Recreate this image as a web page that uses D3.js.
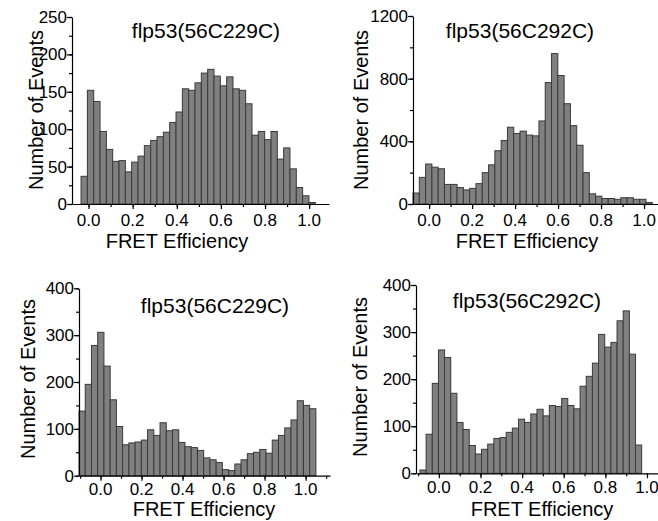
<!DOCTYPE html>
<html lang="en">
<head>
<meta charset="UTF-8">
<title>FRET Efficiency histograms</title>
<style>
    body { margin: 0; background: #fff; }
    text { font-family: "Liberation Sans", Arial, sans-serif; fill: #000; }
    .bar { fill: #808080; stroke: #3a3a3a; stroke-width: 1; }
    .axis path, .axis line { stroke: #000; stroke-width: 1.2; }
</style>
</head>
<body>
<div id="chart"></div>
<script src="https://d3js.org/d3.v7.min.js"></script>
<script>
// panel titles
var titles = ["flp53(56C229C)", "flp53(56C292C)", "flp53(56C229C)", "flp53(56C292C)"];

// counts per bin
var countsA = [37, 152, 137, 97, 73, 57, 58, 43, 56, 64, 78, 85, 90, 96, 109, 123, 154, 152, 162,
    175, 180, 171, 158, 170, 154, 152, 134, 92, 97, 86, 97, 60, 75, 47, 22, 11, 2];
var countsB = [70, 170, 255, 235, 225, 125, 125, 105, 90, 100, 130, 200, 250, 340, 405, 490, 450,
    465, 440, 435, 530, 775, 960, 820, 640, 500, 375, 200, 65, 50, 35, 35, 30, 40, 40, 30, 30, 10];
var countsC = [138, 195, 278, 306, 234, 162, 105, 66, 70, 72, 76, 98, 86, 113, 96, 98, 71, 62, 60,
    54, 38, 34, 28, 13, 11, 25, 34, 47, 50, 56, 48, 76, 86, 102, 119, 160, 150, 143];
var countsD = [7, 83, 191, 262, 246, 170, 108, 93, 59, 41, 51, 62, 74, 76, 87, 96, 115, 108, 126,
    136, 122, 144, 142, 159, 144, 137, 185, 206, 234, 295, 268, 278, 324, 345, 253, 60];

// first bin edge and bin width (FRET units)
var binStart = [-0.034, -0.075, -0.105, -0.091];
var binWidth = [0.0287, 0.0293, 0.0304, 0.0296];

// axis ranges and ticks
var xDomains = [[-0.075, 1.09], [-0.075, 1.065], [-0.105, 1.119], [-0.11, 1.053]];
var xTicks = [0.0, 0.2, 0.4, 0.6, 0.8, 1.0];
var yMax = [250, 1200, 400, 400];
var yTicks = [[0, 50, 100, 150, 200, 250], [0, 400, 800, 1200], [0, 100, 200, 300, 400], [0, 100, 200, 300, 400]];
var yMinor = [25, 200, 50, 50];

var allCounts = [countsA, countsB, countsC, countsD];

// pixel placement of each panel
var layout = [
    {x0: 72, x1: 329, y0: 204, y1: 17, titleX: 206, titleY: 38, xlabX: 177, xlabY: 248, tickY: 226, ylabX: 43, ylabY: 110},
    {x0: 413, x1: 658, y0: 204, y1: 16, titleX: 520, titleY: 38, xlabX: 527, xlabY: 248, tickY: 226, ylabX: 368, ylabY: 110},
    {x0: 79, x1: 330, y0: 475.7, y1: 288.3, titleX: 215, titleY: 313, xlabX: 204, xlabY: 516, tickY: 495, ylabX: 35, ylabY: 379},
    {x0: 416, x1: 658, y0: 473.3, y1: 285, titleX: 527, titleY: 308, xlabX: 542, xlabY: 516, tickY: 493, ylabX: 367, ylabY: 377}
];

var svg = d3.select("#chart")
    .append("svg")
    .attr("width", 658)
    .attr("height", 521);

layout.forEach(function (L, p) {
    var g = svg.append("g");
    var counts = allCounts[p];

    var x = d3.scaleLinear().domain(xDomains[p]).range([L.x0, L.x1]);
    var y = d3.scaleLinear().domain([0, yMax[p]]).range([L.y0, L.y1]);

    // bars
    g.selectAll(".bar")
        .data(counts)
        .enter().append("rect")
        .attr("class", "bar")
        .attr("x", function (d, i) {return x(binStart[p] + i * binWidth[p]);})
        .attr("width", function () {return x(binWidth[p]) - x(0);})
        .attr("y", function (d) {return y(d);})
        .attr("height", function (d) {return y(0) - y(d);});

    // minor ticks, x
    var xMinor = d3.range(-0.1, 1.11, 0.1).filter(function (v) {
        return v >= xDomains[p][0] && v <= xDomains[p][1];
    });
    g.append("g")
        .attr("class", "axis")
        .attr("transform", "translate(0," + L.y0 + ")")
        .call(d3.axisBottom(x).tickValues(xMinor).tickSize(3).tickFormat(""))
        .select(".domain").remove();

    // x axis
    g.append("g")
        .attr("class", "axis")
        .attr("transform", "translate(0," + L.y0 + ")")
        .call(d3.axisBottom(x).tickValues(xTicks).tickSizeInner(5).tickSizeOuter(0).tickFormat(""));

    g.selectAll(".xtl")
        .data(xTicks)
        .enter().append("text")
        .attr("class", "xtl")
        .attr("x", function (d) {return x(d);})
        .attr("y", L.tickY)
        .attr("text-anchor", "middle")
        .style("font-size", "17px")
        .text(function (d) {return d3.format(".1f")(d);});

    // minor ticks, y
    g.append("g")
        .attr("class", "axis")
        .attr("transform", "translate(" + L.x0 + ",0)")
        .call(d3.axisLeft(y).tickValues(d3.range(0, yMax[p] + 1, yMinor[p])).tickSize(3).tickFormat(""))
        .select(".domain").remove();

    // y axis
    g.append("g")
        .attr("class", "axis")
        .attr("transform", "translate(" + L.x0 + ",0)")
        .call(d3.axisLeft(y).tickValues(yTicks[p]).tickSizeInner(5).tickSizeOuter(0).tickFormat(""));

    g.selectAll(".ytl")
        .data(yTicks[p])
        .enter().append("text")
        .attr("class", "ytl")
        .attr("x", L.x0 - 5)
        .attr("y", function (d) {return y(d) + 6;})
        .attr("text-anchor", "end")
        .style("font-size", "17px")
        .text(function (d) {return d;});

    // title
    g.append("text")
        .attr("x", L.titleX)
        .attr("y", L.titleY)
        .attr("text-anchor", "middle")
        .style("font-size", "21px")
        .text(titles[p]);

    // axis labels
    g.append("text")
        .attr("x", L.xlabX)
        .attr("y", L.xlabY)
        .attr("text-anchor", "middle")
        .style("font-size", "20px")
        .text("FRET Efficiency");

    g.append("text")
        .attr("transform", "translate(" + L.ylabX + "," + L.ylabY + ") rotate(-90)")
        .attr("text-anchor", "middle")
        .style("font-size", "20px")
        .text("Number of Events");
});
</script>
</body>
</html>
